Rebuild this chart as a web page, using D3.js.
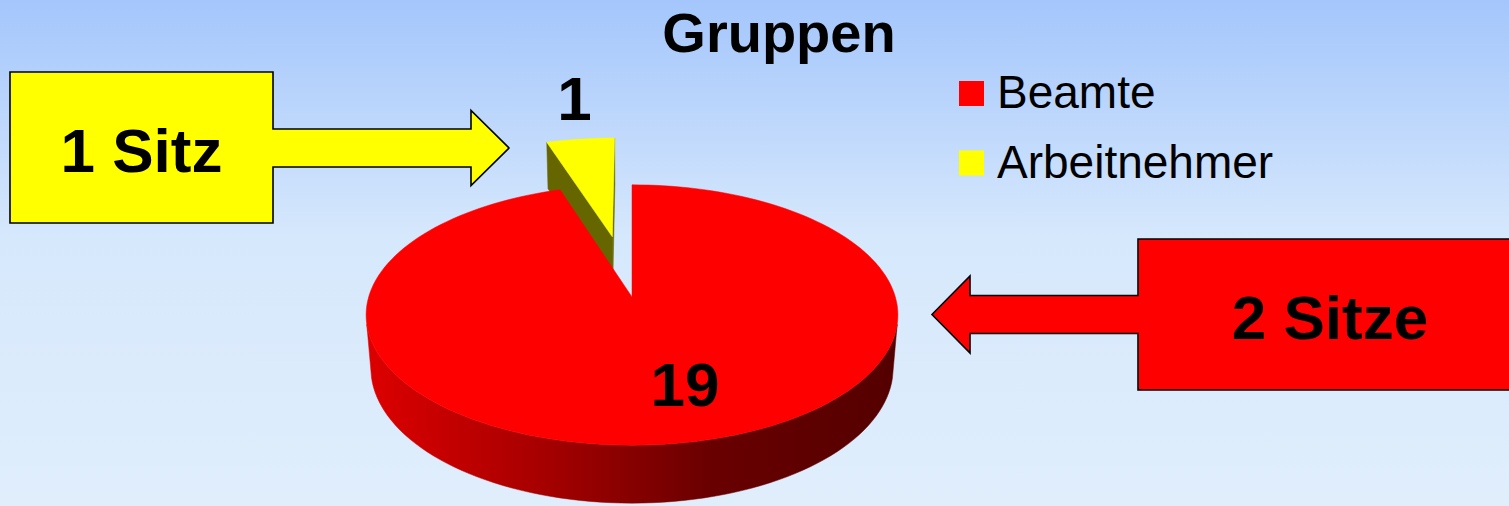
<!DOCTYPE html>
<html>
<head>
<meta charset="utf-8">
<script src="https://cdn.jsdelivr.net/npm/d3@7"></script>
<style>
  body { margin: 0; overflow: hidden; }
  svg { display: block; font-family: "Liberation Sans", Arial, sans-serif; }
</style>
</head>
<body>
<div id="chart"></div>
<script>
// data
const categories = ["Beamte", "Arbeitnehmer"];
const seats = [19, 1];
const sliceColors = ["#ff0000", "#ffff00"];
const cutColors = ["#800000", "#666600"];
const explode = [0, 0.51];
const calloutTexts = ["1 Sitz", "2 Sitze"];
const calloutColors = ["#ffff00", "#ff0000"];
const title = "Gruppen";

const W = 1509, H = 506;

// perspective camera for the 3d pie (unit radius disc)
const view = { cx: 632, cy: 297, F: 1667, D: 6.33, tilt: 29 * Math.PI / 180, depth: 0.233 };
const sa = Math.sin(view.tilt), ca = Math.cos(view.tilt);
const cam = [0, -view.D * ca, view.D * sa];

function zOf(u, v, h) { return view.D + v * ca - h * sa; }
function project(u, v, h) {
    let z = zOf(u, v, h);
    let yc = v * sa + h * ca;
    return [view.cx + view.F * u / z, view.cy - view.F * yc / z];
}
function facing(n, p) {
    return n[0] * (cam[0] - p[0]) + n[1] * (cam[1] - p[1]) + n[2] * (cam[2] - p[2]) > 0;
}

let svg = d3.select("#chart").append("svg")
    .attr("width", W)
    .attr("height", H);

let defs = svg.append("defs");

// background
let bg = defs.append("linearGradient").attr("id", "bg")
    .attr("x1", 0).attr("y1", 0).attr("x2", 0).attr("y2", 1);
bg.append("stop").attr("offset", 0).attr("stop-color", "#a4c6fc");
bg.append("stop").attr("offset", 0.47).attr("stop-color", "#d6e8fc");
bg.append("stop").attr("offset", 1).attr("stop-color", "#e0eefc");

svg.append("rect").attr("width", W).attr("height", H).attr("fill", "url(#bg)");

// pie slices
const arcs = d3.pie().sort(null).value(d => d)(seats);
const line = d3.line().curve(d3.curveLinearClosed);
const steps = 180;

let sides = [], tops = [];
let wallX = [Infinity, -Infinity];

arcs.forEach(function(a, i) {
    let mid = (a.startAngle + a.endAngle) / 2;
    let ou = explode[i] * Math.sin(mid), ov = explode[i] * Math.cos(mid);
    let rim = (t, h) => project(ou + Math.sin(t), ov + Math.cos(t), h);
    let n = Math.max(2, Math.ceil(steps * (a.endAngle - a.startAngle) / (2 * Math.PI)));
    let angles = d3.range(n + 1).map(k => a.startAngle + (a.endAngle - a.startAngle) * k / n);

    // top face
    let topPts = [project(ou, ov, 0)].concat(angles.map(t => rim(t, 0)));
    tops.push({ pts: topPts, fill: sliceColors[i], z: zOf(ou + 0.5 * Math.sin(mid), ov + 0.5 * Math.cos(mid), 0) });

    // outer wall, only the parts that face the camera
    let runs = [], run = [];
    angles.forEach(function(t) {
        let ok = facing([Math.sin(t), Math.cos(t), 0], [ou + Math.sin(t), ov + Math.cos(t), 0]);
        if (ok) run.push(t);
        else if (run.length) { runs.push(run); run = []; }
    });
    if (run.length) runs.push(run);
    runs.forEach(function(r) {
        if (r.length < 2) return;
        let pts = r.map(t => rim(t, 0)).concat(r.slice().reverse().map(t => rim(t, -view.depth)));
        pts.forEach(p => { wallX[0] = Math.min(wallX[0], p[0]); wallX[1] = Math.max(wallX[1], p[0]); });
        let tm = r[Math.floor(r.length / 2)];
        sides.push({ pts: pts, fill: "url(#wall" + i + ")", z: zOf(ou + Math.sin(tm), ov + Math.cos(tm), 0) });
    });

    // radial cut faces
    [[a.startAngle, -1], [a.endAngle, 1]].forEach(function(e) {
        let t = e[0];
        let nrm = [e[1] * Math.cos(t), -e[1] * Math.sin(t), 0];
        if (!facing(nrm, [ou, ov, 0])) return;
        let pts = [project(ou, ov, 0), rim(t, 0), rim(t, -view.depth), project(ou, ov, -view.depth)];
        sides.push({ pts: pts, fill: cutColors[i], z: zOf(ou + 0.5 * Math.sin(t), ov + 0.5 * Math.cos(t), 0) });
    });
});

// wall shading, light on the left, dark on the right
sliceColors.forEach(function(col, i) {
    let g = defs.append("linearGradient").attr("id", "wall" + i)
        .attr("gradientUnits", "userSpaceOnUse")
        .attr("x1", wallX[0]).attr("x2", wallX[1]).attr("y1", 0).attr("y2", 0);
    [[0, 0.4], [0.35, 1.25], [0.65, 2.5], [1, 3.1]].forEach(function(s) {
        g.append("stop").attr("offset", s[0]).attr("stop-color", d3.color(col).darker(s[1]).formatHex());
    });
});

let pie = svg.append("g");
sides.sort((a, b) => b.z - a.z);
tops.sort((a, b) => b.z - a.z);
sides.concat(tops).forEach(function(f) {
    pie.append("path")
        .attr("d", line(f.pts))
        .attr("fill", f.fill)
        .attr("stroke", f.fill)
        .attr("stroke-width", 0.5);
});

// data labels
const labelFont = 62;
{
    let a = arcs[0];
    let t = (a.startAngle + a.endAngle) / 2 - 0.13;
    let p = project(0.65 * Math.sin(t), 0.65 * Math.cos(t), 0);
    svg.append("text").attr("x", p[0]).attr("y", p[1] + 22)
        .attr("text-anchor", "middle").attr("font-weight", "bold")
        .attr("font-size", labelFont).text(seats[0]);
}
{
    let a = arcs[1];
    let mid = (a.startAngle + a.endAngle) / 2;
    let ou = explode[1] * Math.sin(mid), ov = explode[1] * Math.cos(mid);
    let p = project(ou + Math.sin(mid), ov + Math.cos(mid), 0);
    svg.append("text").attr("x", p[0] - 6).attr("y", p[1] - 19)
        .attr("text-anchor", "middle").attr("font-weight", "bold")
        .attr("font-size", labelFont).text(seats[1]);
}

// title
svg.append("text")
    .attr("x", 779).attr("y", 52)
    .attr("text-anchor", "middle")
    .attr("font-weight", "bold")
    .attr("font-size", 56)
    .text(title);

// legend
let legend = svg.append("g").attr("transform", "translate(959,81)");
categories.forEach(function(c, i) {
    let row = legend.append("g").attr("transform", "translate(0," + (i * 69.5) + ")");
    row.append("rect").attr("width", 25).attr("height", 25).attr("fill", sliceColors[i]);
    row.append("text").attr("x", 38).attr("y", 27).attr("font-size", 46).text(c);
});

// callout arrows
function calloutPath(b) {
    // box x0..x1, y0..y1; the arrow leaves the box on the side it points to
    let cy = b.cy;
    let edge = b.dir > 0 ? b.x1 : b.x0;
    let far = b.dir > 0 ? b.x0 : b.x1;
    return "M" + far + "," + b.y0 + "H" + edge + "V" + (cy - b.shaft) +
        "H" + b.base + "V" + (cy - b.head) + "L" + b.tip + "," + cy +
        "L" + b.base + "," + (cy + b.head) + "V" + (cy + b.shaft) +
        "H" + edge + "V" + b.y1 + "H" + far + "Z";
}
const calloutBoxes = [
    { x0: 10, x1: 273, y0: 72, y1: 223, cy: 148, dir: 1, base: 471, tip: 509, shaft: 19, head: 37.5 },
    { x0: 1138, x1: 1522, y0: 239, y1: 390, cy: 314.5, dir: -1, base: 970, tip: 932, shaft: 19, head: 38.5 }
];
calloutBoxes.forEach(function(b, i) {
    svg.append("path")
        .attr("d", calloutPath(b))
        .attr("fill", calloutColors[i])
        .attr("stroke", "#000")
        .attr("stroke-width", 1.6)
        .attr("stroke-linejoin", "miter");
    svg.append("text")
        .attr("x", (b.x0 + b.x1) / 2).attr("y", (b.y0 + b.y1) / 2 + 24)
        .attr("text-anchor", "middle")
        .attr("font-weight", "bold")
        .attr("font-size", labelFont)
        .text(calloutTexts[i]);
});
</script>
</body>
</html>
